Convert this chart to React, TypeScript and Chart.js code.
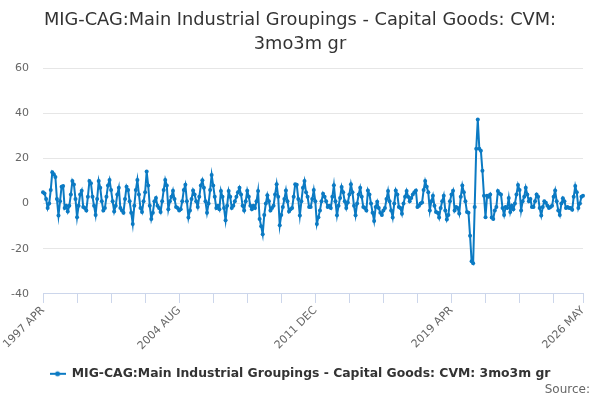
import React, { useEffect, useRef } from "react";
import { Chart, registerables } from "chart.js";

Chart.register(...registerables);

const TITLE_LINES = ["MIG-CAG:Main Industrial Groupings - Capital Goods: CVM:", "3mo3m gr"];
const SERIES_NAME = "MIG-CAG:Main Industrial Groupings - Capital Goods: CVM: 3mo3m gr";
const SOURCE_TEXT = "Source:";

const MONTH_NAMES = ["JAN", "FEB", "MAR", "APR", "MAY", "JUN", "JUL", "AUG", "SEP", "OCT", "NOV", "DEC"];
const START_YEAR = 1997;
const START_MONTH = 3; // APR

// Monthly values, 1997 APR .. 2026 MAY (350 points)
const VALUES: number[] = [
  5, 4.5, 2, -2, 0, 6, 13.9, 13, 11.8, 2,
  -5.3, 1, 7.5, 7.8, -2, -1, -3.5, -1, 4, 10,
  8.5, 2, -6, -1, 4, 5.7, -1.5, -2, -3, 3,
  10, 9, 3, -1, -5, 2, 10, 7, 1, -3,
  -2, 3, 8, 10.5, 6, 1, -3.5, -1, 4, 7,
  -2, -3, -4, 2, 7.5, 6, 1, -4, -9, -1,
  6, 10.5, 4, -2, -3.7, 1, 5, 14.2, 8, -1,
  -6.8, -4, 1, 2.5, -1, -2, -3.7, 1, 6, 10.5,
  8, -2.5, 1, 3, 5.7, 2, -1.5, -2, -3, -2.5,
  1, 6, 8.3, 1, -6.2, -3, 2, 5.8, 4, 1,
  -1.5, 3, 8, 10.3, 7, 1, -4, 0, 6, 12.7,
  8, 3, -2, -1, -2.5, 5.6, 3, -2, -7.4, -1,
  5.6, 3, -2, -1, 1, 3, 5, 7, 4, -1,
  -3, 1, 5.7, 3, -1, -2.5, -1, -2, 1, 5.6,
  -6.8, -10, -13.6, -5, 0, 3.7, 1, -3, -2, -1,
  4, 8.6, 3, -9.6, -5, -1.5, 2, 5.8, 1, -3.5,
  -2.5, -2, 3, 8.6, 8.3, 2, -5.3, 1, 7, 10,
  5, 3, -1.5, -1.5, 2, 6, 1, -9, -6, -3,
  1, 4.4, 3, 1, -1.5, -1, -2, 3, 8.1, 1,
  -5.2, -1, 2.5, 7.4, 5, 1, -2, 0.5, 4, 8.6,
  5, -1, -5.2, 0, 4, 7, 3, -1.5, -2, -3,
  5.8, 4, 0, -4, -7.7, -1.5, 0.8, -2, -4, -5,
  -3, -2, 2, 5.6, 1, -3, -6.2, 0, 5.8, 4,
  -1.5, -2, -4.5, 0, 3, 5.6, 3, 1, 2.5, 4,
  5, 5.8, -1.5, -1, 0, 0.5, 6, 10, 7.5, 5,
  -3, 1, 3.5, -1, -3.7, -4, -6.2, -2, 1, 3.5,
  -3, -7, -5, 1, 4, 5.7, -3, -1.5, -2, -4.4,
  3, 8, 5, 1, -3.7, -4.1, -14.2, -25.5, -26.4, -1.5,
  24.3, 37.2, 24.3, 23.4, 14.5, 3.5, -6, 3.5, 3, 4,
  -6.2, -6.8, -3, -1.5, 5.6, 4.5, 4, -2, -5, -1.5,
  -2, 2.5, -3.7, -1, -2.5, 0, 4, 8.2, 6, -3,
  1, 3, 7, 4, 1, 2, -1.5, -1.5, 1, 4,
  3, -2, -5.3, -1.5, 1, 0.4, -1, -2, -1.5, -1,
  3, 5.8, 1, -3, -5, 0, 2.4, 1, -2, -1.5,
  -2, -2, -2.7, 3, 7.8, 5, -2, 0, 3, 3.5,
];

const CATEGORIES: string[] = VALUES.map((_, i) => {
  const m = START_MONTH + i;
  return `${START_YEAR + Math.floor(m / 12)} ${MONTH_NAMES[m % 12]}`;
});

const Y_MIN = -40;
const Y_MAX = 60;
const Y_STEP = 20;
const TICK_EVERY = 22;
const LABEL_EVERY = 88;

const LINE_COLOR = "#0b7ac3";
const FONT = "'DejaVu Sans', Verdana, sans-serif";

function makeLegendSymbol(): HTMLCanvasElement {
  const c = document.createElement("canvas");
  c.width = 16;
  c.height = 8;
  const ctx = c.getContext("2d")!;
  ctx.strokeStyle = LINE_COLOR;
  ctx.lineWidth = 2;
  ctx.beginPath();
  ctx.moveTo(0, 4);
  ctx.lineTo(16, 4);
  ctx.stroke();
  ctx.fillStyle = LINE_COLOR;
  ctx.beginPath();
  ctx.arc(8, 4, 2.5, 0, Math.PI * 2);
  ctx.fill();
  return c;
}

const sourcePlugin = {
  id: "sourceText",
  afterDraw(chart: any) {
    const ctx = chart.ctx;
    ctx.save();
    ctx.font = `12px ${FONT}`;
    ctx.fillStyle = "#666666";
    ctx.textAlign = "right";
    ctx.textBaseline = "middle";
    ctx.fillText(SOURCE_TEXT, chart.width - 10, chart.height - 10);
    ctx.restore();
  },
};

export default function App() {
  const canvasRef = useRef<HTMLCanvasElement | null>(null);

  useEffect(() => {
    if (!canvasRef.current) return;
    const symbol = makeLegendSymbol();
    const lastIndex = VALUES.length - 1;
    const chart = new Chart(canvasRef.current, {
      type: "line",
      data: {
        labels: CATEGORIES,
        datasets: [
          {
            label: SERIES_NAME,
            data: VALUES,
            borderColor: LINE_COLOR,
            backgroundColor: LINE_COLOR,
            borderWidth: 2,
            pointRadius: 2,
            pointHoverRadius: 2,
            pointBorderWidth: 0,
            tension: 0,
            fill: false,
          },
        ],
      },
      options: {
        animation: false,
        responsive: false,
        maintainAspectRatio: false,
        layout: { padding: { left: 0, right: 0, top: 0, bottom: 10 } },
        scales: {
          x: {
            type: "category",
            offset: false,
            afterBuildTicks: (scale: any) => {
              const t: { value: number }[] = [];
              for (let i = 0; i <= lastIndex; i += TICK_EVERY) t.push({ value: i });
              if (t[t.length - 1].value !== lastIndex) t.push({ value: lastIndex });
              scale.ticks = t;
            },
            afterFit: (scale: any) => {
              scale.height = scale.height + 4;
            },
            grid: {
              drawOnChartArea: false,
              drawTicks: true,
              tickLength: 9,
              color: "#ccd6eb",
            },
            border: { display: true, color: "#ccd6eb" },
            ticks: {
              autoSkip: false,
              maxRotation: 45,
              minRotation: 45,
              padding: 1,
              color: "#666666",
              font: { family: FONT, size: 11 },
              callback: function (this: any, value: any) {
                const v = Number(value);
                if (v % LABEL_EVERY === 0 || v === lastIndex) return CATEGORIES[v];
                return "";
              },
            },
          },
          y: {
            min: Y_MIN,
            max: Y_MAX,
            ticks: {
              stepSize: Y_STEP,
              color: "#666666",
              padding: 14,
              font: { family: FONT, size: 11 },
            },
            grid: { color: "#e6e6e6", drawTicks: false },
            border: { display: false },
            afterFit: (scale: any) => {
              scale.width = 43;
            },
          },
          yRight: {
            type: "linear",
            position: "right",
            display: true,
            grid: { drawOnChartArea: false, drawTicks: false },
            border: { display: false },
            ticks: { display: false },
            afterFit: (scale: any) => {
              scale.width = 17;
            },
          },
        },
        plugins: {
          title: {
            display: true,
            text: TITLE_LINES,
            color: "#333333",
            font: { family: FONT, size: 17.8, weight: "normal", lineHeight: 1.35 },
            padding: { top: 8, bottom: 12 },
          },
          legend: {
            display: true,
            position: "bottom",
            labels: {
              usePointStyle: true,
              pointStyle: symbol as any,
              pointStyleWidth: 16,
              color: "#333333",
              font: { family: FONT, size: 12.4, weight: "bold" },
              padding: 10,
            },
          },
          tooltip: { enabled: false },
        },
      } as any,
      plugins: [sourcePlugin],
    });
    return () => chart.destroy();
  }, []);

  return (
    <div style={{ position: "fixed", left: 0, top: 0, width: 600, height: 400, background: "#fff" }}>
      <canvas ref={canvasRef} width={600} height={400} style={{ width: 600, height: 400 }} />
    </div>
  );
}
